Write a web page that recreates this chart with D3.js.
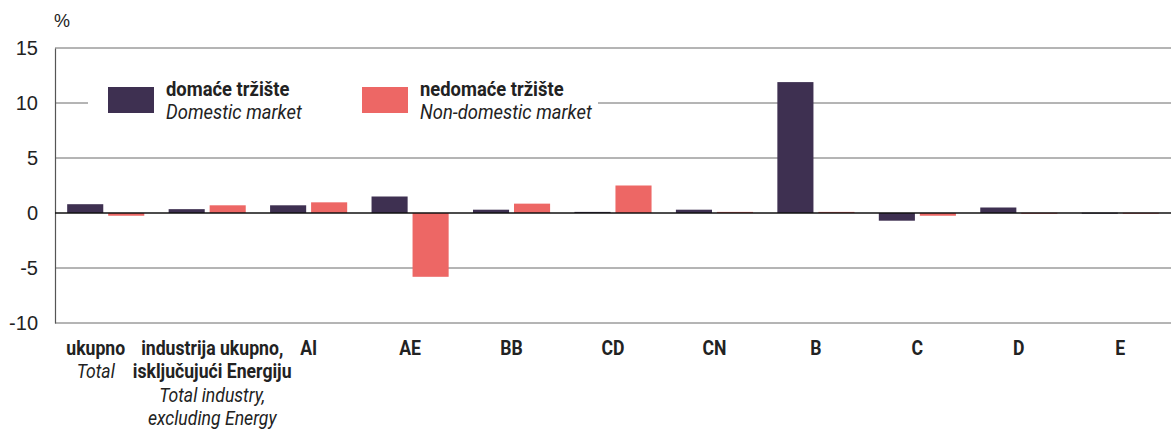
<!DOCTYPE html>
<html>
<head>
<meta charset="utf-8">
<script src="https://cdn.jsdelivr.net/npm/d3@7"></script>
<style>
  body { margin: 0; background: #fff; }
  svg { display: block; }
  .cond { font-family: "Roboto", "Liberation Sans", sans-serif; }
  .grid line { stroke: #6b6b6b; stroke-width: 1; }
</style>
</head>
<body>
<svg width="1171" height="430"></svg>
<script>
// categories, Croatian lines (bold) then English lines (italic)
var categoriesHr = [['ukupno'], ['industrija ukupno,', 'isključujući Energiju'], ['AI'], ['AE'], ['BB'], ['CD'], ['CN'], ['B'], ['C'], ['D'], ['E']];
var categoriesEn = [['Total'], ['Total industry,', 'excluding Energy'], [], [], [], [], [], [], [], [], []];
var domestic    = [0.8, 0.35, 0.7, 1.5, 0.3, 0.1, 0.3, 11.9, -0.7, 0.5, 0.03];
var nonDomestic = [-0.25, 0.7, 0.97, -5.8, 0.85, 2.5, 0.1, 0.1, -0.25, 0.02, 0.02];
var yTicks = [-10, -5, 0, 5, 10, 15];
var seriesNames = [['domaće tržište', 'Domestic market'], ['nedomaće tržište', 'Non-domestic market']];
var colors = ['#3e3051', '#ed6765'];

var svg = d3.select('svg');
var svgWidth = +svg.attr('width');

var plot = {l: 55, r: svgWidth, t: 48, b: 323};

var keys = categoriesHr.map(function(d, i) { return i; });

var x0 = d3.scaleBand()
    .domain(keys)
    .range([plot.l, plot.r])
    .paddingInner(0.24)
    .paddingOuter(0.12);

var x1 = d3.scaleBand()
    .domain([0, 1])
    .range([0, x0.bandwidth()])
    .paddingInner(0.12);

var y = d3.scaleLinear()
    .domain([-10, 15])
    .range([plot.b, plot.t]);

// gridlines
var grid = svg.append('g').attr('class', 'grid');
grid.selectAll('line')
    .data(yTicks.filter(function(d) { return d !== 0; }))
    .enter().append('line')
    .attr('x1', plot.l).attr('x2', plot.r)
    .attr('y1', function(d) { return y(d); })
    .attr('y2', function(d) { return y(d); });

// left axis with labels (plain hyphen for negatives)
var yAxis = d3.axisLeft(y)
    .tickValues(yTicks)
    .tickSize(0)
    .tickPadding(17)
    .tickFormat(function(d) { return String(d); });
var yG = svg.append('g')
    .attr('transform', 'translate(' + plot.l + ',0)')
    .call(yAxis);
yG.select('.domain').attr('stroke', '#555').attr('stroke-width', 1.2);
yG.selectAll('text')
    .attr('font-family', '"Liberation Sans", Arial, sans-serif')
    .attr('font-size', 20)
    .attr('fill', '#222');

svg.append('text')
    .attr('x', 54).attr('y', 27)
    .attr('font-family', '"Liberation Sans", Arial, sans-serif')
    .attr('font-size', 18)
    .attr('fill', '#222')
    .text('%');

// legend with white background cutting the gridline
var legend = svg.append('g');
legend.append('rect')
    .attr('x', 88).attr('y', 72).attr('width', 510).attr('height', 56)
    .attr('fill', '#fff');
var legendX = [108, 362];
seriesNames.forEach(function(s, i) {
    var g = legend.append('g').attr('transform', 'translate(' + legendX[i] + ',0)');
    g.append('rect')
        .attr('x', 0).attr('y', 87).attr('width', 46).attr('height', 26)
        .attr('fill', colors[i]);
    g.append('text').attr('class', 'cond')
        .attr('transform', 'translate(58,96) scale(0.92,1)')
        .attr('font-size', 20).attr('font-weight', 'bold')
        .attr('fill', '#222')
        .text(s[0]);
    g.append('text').attr('class', 'cond')
        .attr('transform', 'translate(58,119) scale(0.92,1)')
        .attr('font-size', 20).attr('font-style', 'italic')
        .attr('fill', '#222')
        .text(s[1]);
});

// bars
var groups = svg.selectAll('.bar-group')
    .data(keys)
    .enter().append('g')
    .attr('class', 'bar-group')
    .attr('transform', function(d) { return 'translate(' + x0(d) + ',0)'; });

groups.selectAll('rect')
    .data(function(i) { return [domestic[i], nonDomestic[i]]; })
    .enter().append('rect')
    .attr('x', function(d, j) { return x1(j); })
    .attr('width', x1.bandwidth())
    .attr('y', function(d) { return y(Math.max(0, d)); })
    .attr('height', function(d) { return Math.max(1, Math.abs(y(d) - y(0))); })
    .attr('fill', function(d, j) { return colors[j]; });

// zero line
svg.append('line')
    .attr('x1', plot.l).attr('x2', plot.r)
    .attr('y1', y(0)).attr('y2', y(0))
    .attr('stroke', '#111').attr('stroke-width', 1.3);

// category labels
var labelDx = [-10, 5, 0, 0, 0, 0, 0, 0, 0, 0, 0];
var labels = svg.selectAll('.cat-label')
    .data(keys)
    .enter().append('text')
    .attr('class', 'cond cat-label')
    .attr('text-anchor', 'middle')
    .attr('font-size', 21)
    .attr('fill', '#222')
    .attr('transform', function(d) {
        return 'translate(' + (x0(d) + x0.bandwidth() / 2 + labelDx[d]) + ',355) scale(0.84,1)';
    });

labels.each(function(i) {
    var t = d3.select(this);
    var lines = categoriesHr[i].map(function(s) { return {s: s, it: false}; })
        .concat(categoriesEn[i].map(function(s) { return {s: s, it: true}; }));
    lines.forEach(function(l, k) {
        t.append('tspan')
            .attr('x', 0)
            .attr('y', k * 23.5)
            .attr('font-weight', l.it ? 'normal' : 'bold')
            .attr('font-style', l.it ? 'italic' : 'normal')
            .text(l.s);
    });
});
</script>
</body>
</html>
